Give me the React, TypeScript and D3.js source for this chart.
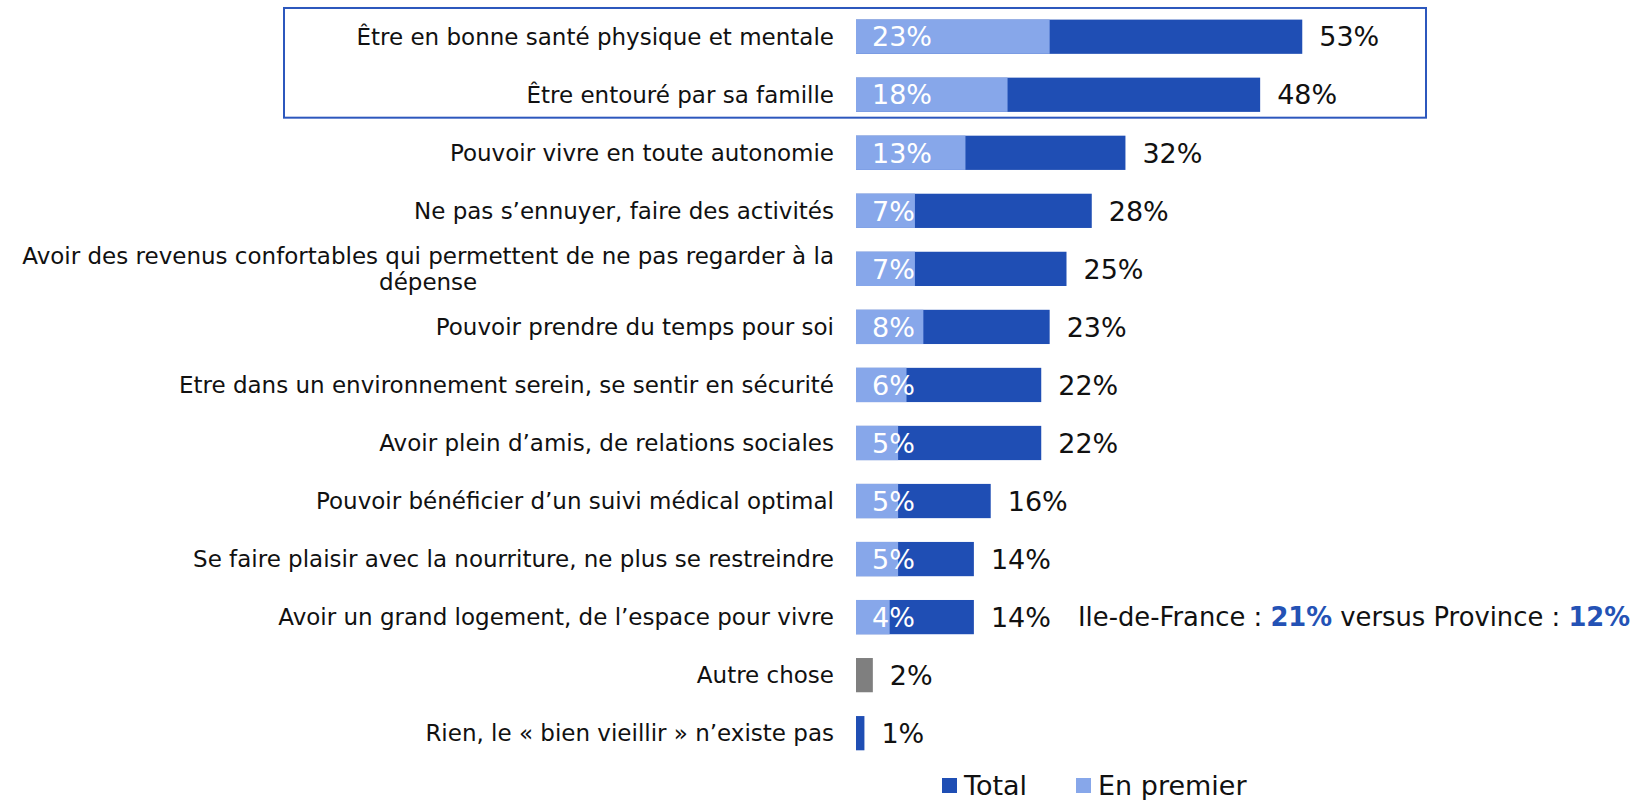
import React, { useEffect, useRef } from "react";
import * as d3 from "d3";

// libellés (du haut vers le bas)
const categories = [
  "Être en bonne santé physique et mentale",
  "Être entouré par sa famille",
  "Pouvoir vivre en toute autonomie",
  "Ne pas s’ennuyer, faire des activités",
  "Avoir des revenus confortables qui permettent de ne pas regarder à la\ndépense",
  "Pouvoir prendre du temps pour soi",
  "Etre dans un environnement serein, se sentir en sécurité",
  "Avoir plein d’amis, de relations sociales",
  "Pouvoir bénéficier d’un suivi médical optimal",
  "Se faire plaisir avec la nourriture, ne plus se restreindre",
  "Avoir un grand logement, de l’espace pour vivre",
  "Autre chose",
  "Rien, le « bien vieillir » n’existe pas",
];
const totalValues = [53, 48, 32, 28, 25, 23, 22, 22, 16, 14, 14, 2, 1];
const firstValues = [23, 18, 13, 7, 7, 8, 6, 5, 5, 5, 4, null, null];
const legendLabels = ["Total", "En premier"];
const noteParts = [
  { text: "Ile-de-France : ", bold: false },
  { text: "21%", bold: true },
  { text: " versus Province : ", bold: false },
  { text: "12%", bold: true },
];

const DARK = "#1f4eb4";
const LIGHT = "#87a7ea";
const GREY = "#7f7f7f";
const FONT = "'DejaVu Sans', sans-serif";

const W = 1634;
const H = 800;

export default function App() {
  const ref = useRef<SVGSVGElement>(null);

  useEffect(() => {
    const svg = d3.select(ref.current);
    svg.selectAll("*").remove();

    const x = d3.scaleLinear().domain([0, 100]).range([856, 856 + 842]);
    const y = d3
      .scaleBand()
      .domain(categories)
      .range([7.7, 762.2])
      .paddingInner(0.41)
      .paddingOuter(0.205);
    const bw = y.bandwidth();
    const step = y.step();

    // cadre autour des deux premiers items
    const boxTop = (y(categories[0]) as number) - step * 0.2;
    const boxBottom = (y(categories[1]) as number) + bw + step * 0.1;
    svg
      .append("rect")
      .attr("x", 284)
      .attr("y", boxTop)
      .attr("width", 1426 - 284)
      .attr("height", boxBottom - boxTop)
      .attr("fill", "none")
      .attr("stroke", "#2c57bd")
      .attr("stroke-width", 2);

    const rows = categories.map((c, i) => ({
      c,
      total: totalValues[i],
      first: firstValues[i],
      color: c === "Autre chose" ? GREY : DARK,
    }));

    // barres total
    svg
      .append("g")
      .selectAll("rect")
      .data(rows)
      .join("rect")
      .attr("x", x(0))
      .attr("y", (d) => y(d.c) as number)
      .attr("width", (d) => x(d.total) - x(0))
      .attr("height", bw)
      .attr("fill", (d) => d.color);

    // barres "en premier"
    const firsts = rows.filter((d) => d.first != null);
    svg
      .append("g")
      .selectAll("rect")
      .data(firsts)
      .join("rect")
      .attr("x", x(0))
      .attr("y", (d) => y(d.c) as number)
      .attr("width", (d) => x(d.first as number) - x(0))
      .attr("height", bw)
      .attr("fill", LIGHT);

    svg
      .append("g")
      .selectAll("text")
      .data(firsts)
      .join("text")
      .attr("x", x(0) + 16)
      .attr("y", (d) => (y(d.c) as number) + bw / 2)
      .attr("dy", "0.36em")
      .attr("fill", "white")
      .attr("font-family", FONT)
      .attr("font-size", 27)
      .text((d) => `${d.first}%`);

    // valeurs totales
    svg
      .append("g")
      .selectAll("text")
      .data(rows)
      .join("text")
      .attr("x", (d) => x(d.total) + 17)
      .attr("y", (d) => (y(d.c) as number) + bw / 2)
      .attr("dy", "0.36em")
      .attr("fill", "#111")
      .attr("font-family", FONT)
      .attr("font-size", 27)
      .text((d) => `${d.total}%`);

    // libellés
    const labels = svg.append("g");
    rows.forEach((d) => {
      const lines = d.c.split("\n");
      const cy = (y(d.c) as number) + bw / 2;
      const lh = 26;
      const t = labels
        .append("text")
        .attr("font-family", FONT)
        .attr("font-size", 23)
        .attr("fill", "#111");
      if (lines.length === 1) {
        t.attr("x", 834).attr("y", cy).attr("dy", "0.36em").attr("text-anchor", "end").text(d.c);
      } else {
        // mesure de la première ligne pour centrer la seconde dessous
        t.text(lines[0]);
        const w = (t.node() as SVGTextElement).getComputedTextLength();
        t.text(null);
        const mid = 834 - w / 2;
        lines.forEach((ln, k) => {
          t.append("tspan")
            .attr("x", mid)
            .attr("y", cy + (k - (lines.length - 1) / 2) * lh)
            .attr("dy", "0.36em")
            .attr("text-anchor", "middle")
            .text(ln);
        });
      }
    });

    // note Ile-de-France
    const noteRow = categories[10];
    const note = svg
      .append("text")
      .attr("x", 1078)
      .attr("y", (y(noteRow) as number) + bw / 2)
      .attr("dy", "0.36em")
      .attr("font-family", FONT)
      .attr("font-size", 25.8)
      .attr("fill", "#111");
    noteParts.forEach((p) => {
      note
        .append("tspan")
        .attr("font-weight", p.bold ? "bold" : "normal")
        .attr("fill", p.bold ? "#2452b5" : "#111")
        .text(p.text);
    });

    // légende
    const legend = svg.append("g");
    const legendX = [942, 1076];
    const legendColors = [DARK, LIGHT];
    legendLabels.forEach((l, i) => {
      legend
        .append("rect")
        .attr("x", legendX[i])
        .attr("y", 778)
        .attr("width", 15)
        .attr("height", 15)
        .attr("fill", legendColors[i]);
      legend
        .append("text")
        .attr("x", legendX[i] + 22)
        .attr("y", 795)
        .attr("font-family", FONT)
        .attr("font-size", 27)
        .attr("fill", "#111")
        .text(l);
    });
  }, []);

  return (
    <svg
      ref={ref}
      width={W}
      height={H}
      style={{ position: "absolute", left: 0, top: 0, background: "white" }}
    />
  );
}
